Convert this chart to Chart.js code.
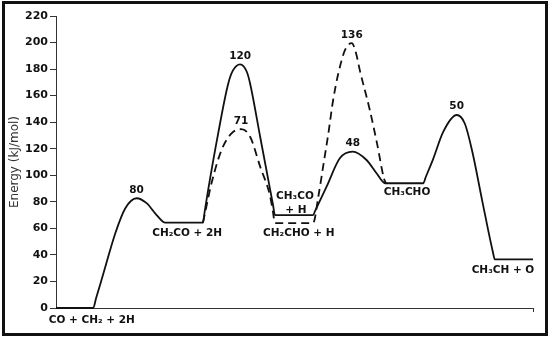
<!DOCTYPE html>
<html>
<head>
<meta charset="utf-8">
<script src="https://cdn.jsdelivr.net/npm/chart.js@4"></script>
<style>
  body { margin: 0; background: #fff; }
  #wrap { position: relative; width: 550px; height: 338px; }
  #frame { position: absolute; left: 2px; top: 1px; width: 546px; height: 335px;
           border: 3px solid #111; box-sizing: border-box; pointer-events: none; }
  canvas { position: absolute; left: 0; top: 0; }
</style>
</head>
<body>
<div id="wrap">
  <canvas id="energyChart" width="550" height="338"></canvas>
  <div id="frame"></div>
</div>
<script>
// reaction coordinate (arbitrary units) and energy (kJ/mol)
const solidX = [0, 7.8, 8.4, 10.1, 12.4, 14.5, 16.9, 19.0, 21.1, 22.9, 30.8, 31.2, 31.9, 34.0, 36.1, 37.1, 38.6, 40.0, 40.7, 42.8, 44.9, 45.5, 45.9, 53.9, 54.3, 56.75, 59.5, 62.2, 65.1, 67.2, 69.0, 77.0, 77.5, 79.0, 81.2, 84.0, 85.7, 87.2, 89.4, 91.6, 92.0, 100];
const solidY = [0, 0, 7.3, 28, 56, 75, 82.7, 79, 70, 64.3, 64.3, 73.3, 89, 131.6, 169, 179, 183.6, 178, 169, 129, 89, 77.6, 70, 70, 73, 91.6, 112.8, 117.8, 111.5, 101.5, 94, 94, 98.5, 111.6, 132.9, 145.4, 139, 119, 80, 42, 36.7, 36.7];

const dashedX = [30.8, 31.3, 32.6, 34.7, 36.8, 38.8, 40.7, 42.8, 44.9, 45.5, 45.9, 53.9, 55.0, 56.0, 57.1, 58.1, 59.2, 60.6, 62.0, 62.9, 63.7, 65.8, 67.3, 68.8, 69.2];
const dashedY = [64.3, 72.5, 94, 119, 131.6, 134.7, 129, 106.5, 84, 72, 64, 64, 84, 106.5, 131.6, 156.7, 176.9, 194.4, 199.5, 192, 179, 149, 124, 97, 94];

// barrier heights written above the peaks
const barrierText = ['80', '120', '71', '136', '48', '50'];
const barrierX = [16.9, 38.6, 38.8, 62.0, 62.2, 84.0];
const barrierY = [88.4, 189.9, 140.9, 205.7, 124.1, 151.7];

// species on each plateau
const speciesText = ['CO + CH\u2082 + 2H', 'CH\u2082CO + 2H', 'CH\u2083CO', '+ H', 'CH\u2082CHO + H', 'CH\u2083CHO', 'CH\u2083CH + O'];
const speciesX = [7.5, 27.5, 50.1, 50.3, 50.9, 73.6, 93.7];
const speciesY = [-9, 56.5, 83.9, 73.9, 56.3, 86.9, 28.6];

const yTicks = [0, 20, 40, 60, 80, 100, 120, 140, 160, 180, 200, 220];

const toPoints = (xs, ys) => xs.map((x, i) => ({ x: x, y: ys[i] }));

const labelPlugin = {
    id: 'energyLabels',
    afterDatasetsDraw(chart) {
        const ctx = chart.ctx;
        const xs = chart.scales.x, ys = chart.scales.y;
        ctx.save();
        ctx.fillStyle = '#111';
        ctx.font = 'bold 10.5px "DejaVu Sans"';
        ctx.textAlign = 'center';
        ctx.textBaseline = 'middle';
        barrierText.forEach((t, i) => {
            ctx.fillText(t, xs.getPixelForValue(barrierX[i]), ys.getPixelForValue(barrierY[i]));
        });
        speciesText.forEach((t, i) => {
            ctx.fillText(t, xs.getPixelForValue(speciesX[i]), ys.getPixelForValue(speciesY[i]));
        });
        ctx.restore();
    }
};

new Chart(document.getElementById('energyChart'), {
    type: 'line',
    data: {
        datasets: [{
            data: toPoints(solidX, solidY),
            borderColor: '#111',
            borderWidth: 1.8,
            pointRadius: 0,
            cubicInterpolationMode: 'monotone',
            fill: false
        }, {
            data: toPoints(dashedX, dashedY),
            borderColor: '#111',
            borderWidth: 1.8,
            borderDash: [8, 5],
            pointRadius: 0,
            cubicInterpolationMode: 'monotone',
            fill: false
        }]
    },
    options: {
        responsive: false,
        animation: false,
        clip: false,
        layout: { padding: { left: 0, top: 16, right: 17, bottom: 0 } },
        plugins: { legend: { display: false }, tooltip: { enabled: false } },
        scales: {
            x: {
                type: 'linear',
                min: 0,
                max: 100,
                afterFit: s => { s.height = 30; },
                afterBuildTicks: s => { s.ticks = [{ value: 100 }]; },
                ticks: { display: false },
                grid: { drawOnChartArea: false, tickLength: 4, color: '#333' },
                border: { display: true, color: '#333', width: 1 }
            },
            y: {
                min: 0,
                max: 220,
                afterFit: s => { s.width = 56; },
                afterBuildTicks: s => { s.ticks = yTicks.map(v => ({ value: v })); },
                ticks: {
                    color: '#111',
                    padding: 2,
                    font: { family: 'DejaVu Sans', size: 11, weight: 'bold' }
                },
                grid: { drawOnChartArea: false, tickLength: 6, color: '#333' },
                border: { display: true, color: '#333', width: 1 },
                title: {
                    display: true,
                    text: 'Energy (kJ/mol)',
                    color: '#333',
                    padding: { top: 8, bottom: 0 },
                    font: { family: 'DejaVu Sans', size: 12 }
                }
            }
        }
    },
    plugins: [labelPlugin]
});
</script>
</body>
</html>
